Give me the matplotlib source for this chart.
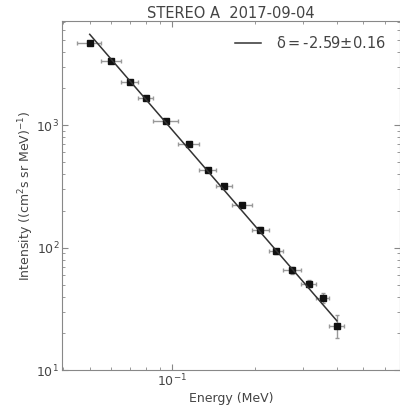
import numpy as np
import matplotlib
matplotlib.use("Agg")
import matplotlib.pyplot as plt

# SEPT electron channels (keV) - lower/upper bounds and centres
E_LOW = [45, 55, 65, 75, 85, 105, 125, 145, 165, 195, 225, 255, 295, 335, 375]
E_HIGH = [55, 65, 75, 85, 105, 125, 145, 165, 195, 225, 255, 295, 335, 375, 425]
E_MID = [50, 60, 70, 80, 95, 115, 135, 155, 180, 210, 240, 275, 315, 355, 400]

# intensities
intensity = [4730, 3330, 2276, 1660, 1083, 710, 431, 319, 223, 141, 93.6, 65.5, 51, 39.2, 23.2]
intensity_err = [60, 50, 40, 30, 25, 18, 12, 10, 8, 6, 5, 4, 3.5, 3.5, 5]

# power-law fit
delta = -2.59
delta_err = 0.16
fit_norm = 2.36

TEXT = "#444444"
SPINE = "#888888"

energy = np.array(E_MID) / 1000.0
xerr = np.array([np.array(E_MID) - np.array(E_LOW),
                 np.array(E_HIGH) - np.array(E_MID)]) / 1000.0

fig = plt.figure(figsize=(4.0, 4.08), dpi=100)
ax = fig.add_axes([0.155, 0.0924, 0.845, 0.857])

ax.errorbar(energy, intensity, xerr=xerr, yerr=intensity_err, fmt="none",
            ecolor="#999999", elinewidth=1.0, capsize=1.5, zorder=2)
ax.plot(energy, intensity, "s", color="#111111", markersize=4.8, zorder=3)

e_fit = np.array([energy[0], energy[-1]])
ax.plot(e_fit, fit_norm * e_fit ** delta, "-", color="#333333", lw=1.1, zorder=4,
        label=r"$\mathregular{\delta = }$" + f"{delta:.2f}" + r"$\pm$" + f"{delta_err:.2f}")

ax.set_xscale("log")
ax.set_yscale("log")
ax.set_xlim(0.0396, 0.68)
ax.set_ylim(10, 7150)

for s in ax.spines.values():
    s.set_color(SPINE)
ax.tick_params(which="both", direction="in", colors=SPINE, labelcolor=TEXT,
               labelsize=9, top=True, right=True, pad=2)
ax.tick_params(which="major", length=4)
ax.tick_params(which="minor", length=2)

ax.set_title("STEREO A  2017-09-04", fontsize=10.5, color=TEXT, pad=2)
ax.set_xlabel("Energy (MeV)", fontsize=9, color=TEXT, labelpad=2)
ax.set_ylabel(r"Intensity ((cm$^2$s sr MeV)$^{-1}$)", fontsize=9, color=TEXT,
              labelpad=0)

leg = ax.legend(loc="upper right", frameon=False, fontsize=10.5, handlelength=1.8,
                handletextpad=1.0, borderaxespad=0.6)
for t in leg.get_texts():
    t.set_color(TEXT)

fig.savefig("out.png", dpi=100)
